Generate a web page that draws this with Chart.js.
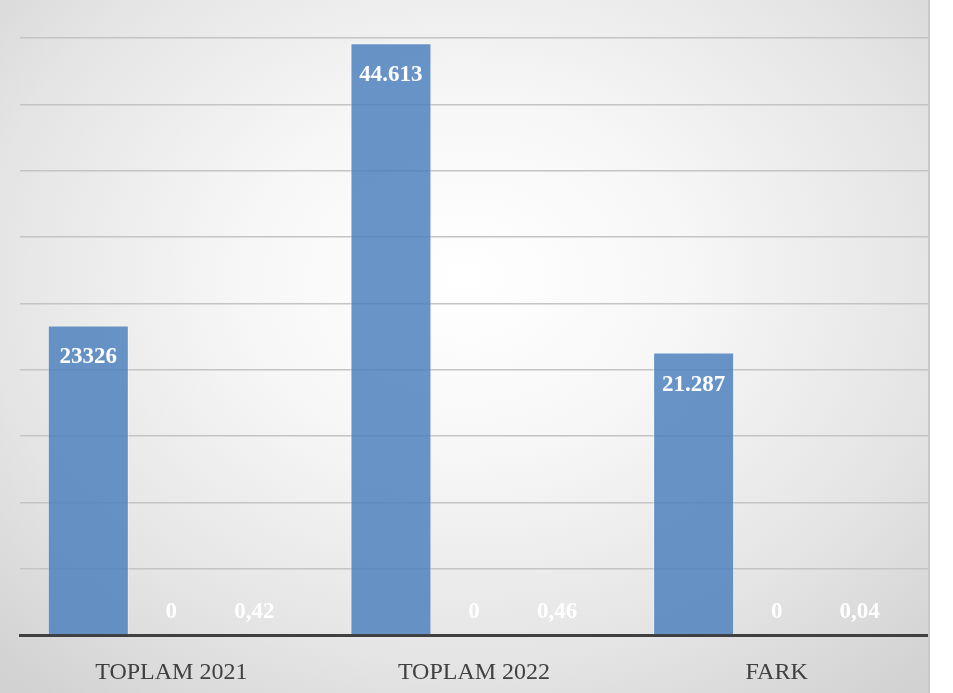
<!DOCTYPE html>
<html>
<head>
<meta charset="utf-8">
<script src="https://cdn.jsdelivr.net/npm/chart.js@4/dist/chart.umd.min.js"></script>
<style>
  html, body { margin: 0; padding: 0; background: #fff; }
  #wrap {
    position: absolute; left: 0; top: 0; width: 930px; height: 693px;
    background: radial-gradient(ellipse 72% 78% at 50% 40%, #ffffff 0%, #f7f7f7 32%, #e4e4e4 72%, #d2d2d2 100%);
  }
  #wrap::after {
    content: ""; position: absolute; right: 0; top: 0; width: 2px; height: 100%; background: #c8c8c8;
  }
</style>
</head>
<body>
<div id="wrap"><canvas id="myChart" width="930" height="693"></canvas></div>
<script>
// categories and series
var categories = ['TOPLAM 2021', 'TOPLAM 2022', 'FARK'];
var seriesA = [23326, 44613, 21287];
var seriesB = [0, 0, 0];
var seriesC = [0.42, 0.46, 0.04];
// value labels as shown on the chart
var labelsA = ['23326', '44.613', '21.287'];
var labelsB = ['0', '0', '0'];
var labelsC = ['0,42', '0,46', '0,04'];
var yTicks = [0, 5000, 10000, 15000, 20000, 25000, 30000, 35000, 40000, 45000];

var barColor = 'rgba(79,129,189,0.85)';

/*
# value labels drawn inside the bar end
*/
var valueLabels = {
  id: 'valueLabels',
  afterDatasetsDraw: function(chart) {
    var ctx = chart.ctx;
    var y = chart.scales.y;
    var base = y.getPixelForValue(0);
    ctx.save();
    ctx.fillStyle = '#ffffff';
    ctx.textAlign = 'center';
    ctx.textBaseline = 'middle';
    ctx.font = 'bold 23px "Liberation Serif", serif';
    chart.data.datasets.forEach(function(ds, i) {
      var meta = chart.getDatasetMeta(i);
      meta.data.forEach(function(bar, j) {
        var ty = Math.min(bar.y + 32, base - 23);
        ctx.fillText(ds.valueText[j], bar.x, ty);
      });
    });
    ctx.restore();
  }
};

var ctx = document.getElementById('myChart').getContext('2d');
var chart = new Chart(ctx, {
  type: 'bar',
  data: {
    labels: categories,
    datasets: [
      { data: seriesA, valueText: labelsA, backgroundColor: barColor, borderColor: 'rgba(255,255,255,0.45)', borderWidth: 1 },
      { data: seriesB, valueText: labelsB, backgroundColor: barColor, borderWidth: 0 },
      { data: seriesC, valueText: labelsC, backgroundColor: 'rgba(0,0,0,0)', borderWidth: 0 }
    ]
  },
  options: {
    responsive: false,
    animation: false,
    layout: { padding: { top: 38, left: 20, right: 2, bottom: 11 } },
    datasets: { bar: { categoryPercentage: 0.823, barPercentage: 0.976 } },
    plugins: { legend: { display: false }, tooltip: { enabled: false } },
    scales: {
      x: {
        afterFit: function(scale) { scale.height = 47; },
        grid: { display: false, drawTicks: false },
        border: { display: true, color: '#404040', width: 3 },
        ticks: { color: '#404040', padding: 23, font: { family: '"Liberation Serif", serif', size: 24 } }
      },
      y: {
        min: yTicks[0],
        max: yTicks[yTicks.length - 1],
        afterBuildTicks: function(scale) {
          scale.ticks = yTicks.map(function(v) { return { value: v }; });
        },
        grid: { color: '#c4c4c4', lineWidth: 1.5, drawTicks: false },
        border: { display: false },
        ticks: { display: false }
      }
    }
  },
  plugins: [valueLabels]
});
</script>
</body>
</html>
